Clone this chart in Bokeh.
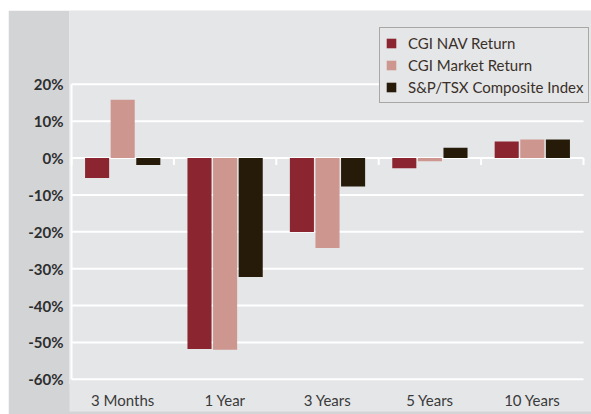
from bokeh.plotting import figure
from bokeh.models import FixedTicker, Legend, LegendItem, ColumnDataSource, Range1d
from bokeh.embed import file_html
from bokeh.resources import INLINE

categories = ["3 Months", "1 Year", "3 Years", "5 Years", "10 Years"]
series = ["CGI NAV Return", "CGI Market Return", "S&P/TSX Composite Index"]
nav = [-5.4, -51.8, -20.1, -2.8, 4.5]
market = [15.8, -52.0, -24.4, -0.9, 5.0]
sptsx = [-1.9, -32.3, -7.7, 2.8, 5.0]
y_ticks = [20, 10, 0, -10, -20, -30, -40, -50, -60]
colors = ["#8B2530", "#CD968F", "#261A08"]

n = len(categories)
W, H = 583, 404
left_border, bottom_border = 61, 30
px_per_unit = 102.4
frame_w = W - left_border
x_start = -2 / px_per_unit
x_end = x_start + frame_w / px_per_unit
px_per_pct = 3.6875
y_end = 40.0
y_start = y_end - (H - bottom_border) / px_per_pct

p = figure(width=W, height=H, output_backend="svg", toolbar_location=None,
           x_range=Range1d(x_start, x_end), y_range=Range1d(y_start, y_end),
           min_border_left=left_border, min_border_right=0, min_border_top=0,
           min_border_bottom=bottom_border)
p.margin = (10, 0, 0, 8)
p.border_fill_color = "#D3D4D6"
p.background_fill_color = "#E5E6E8"
p.outline_line_color = None
p.xgrid.visible = False
p.ygrid.visible = False

# grid lines and axis line
p.segment(x0=[0] * len(y_ticks), x1=[n] * len(y_ticks), y0=y_ticks, y1=y_ticks,
          line_color="white", line_width=2)
p.segment(x0=[0], x1=[0], y0=[min(y_ticks)], y1=[max(y_ticks)], line_color="white", line_width=2)
p.segment(x0=list(range(n + 1)), x1=list(range(n + 1)), y0=[0] * (n + 1), y1=[-1.9] * (n + 1),
          line_color="white", line_width=2)

renderers = []
for j, (name, vals) in enumerate(zip(series, [nav, market, sptsx])):
    xs = [i + 0.5 + (j - 1) * 0.25 for i in range(n)]
    src = ColumnDataSource(dict(x=xs, top=vals))
    r = p.vbar(x="x", top="top", bottom=0, width=0.235, source=src,
               fill_color=colors[j], line_color=None)
    renderers.append(r)

legend = Legend(items=[LegendItem(label=s, renderers=[r]) for s, r in zip(series, renderers)],
                location=(310, 281))
legend.border_line_color = "#6E665E"
legend.border_line_width = 1
legend.background_fill_color = "#E5E6E8"
legend.background_fill_alpha = 1
legend.padding = 5
legend.spacing = 2
legend.margin = 0
legend.glyph_width = 12
legend.glyph_height = 12
legend.label_height = 20
legend.label_standoff = 11
legend.label_text_font = "Lato"
legend.label_text_font_size = "15px"
legend.label_text_color = "#3A3028"
p.add_layout(legend, "center")

# x axis
p.xaxis.ticker = FixedTicker(ticks=[i + 0.5 for i in range(n)])
p.xaxis.major_label_overrides = {i + 0.5: c for i, c in enumerate(categories)}
p.xaxis.axis_line_color = None
p.xaxis.major_tick_line_color = None
p.xaxis.major_tick_out = 0
p.xaxis.minor_tick_line_color = None
p.xaxis.major_label_standoff = 6
p.xaxis.major_label_text_font = "Lato"
p.xaxis.major_label_text_font_size = "15px"
p.xaxis.major_label_text_color = "#3A3A3A"
p.xaxis.background_fill_color = "#E5E6E8"

# y axis
p.yaxis.ticker = FixedTicker(ticks=y_ticks)
p.yaxis.major_label_overrides = {t: f"{t}%" for t in y_ticks}
p.yaxis.axis_line_color = None
p.yaxis.major_tick_line_color = None
p.yaxis.major_tick_out = 0
p.yaxis.major_tick_in = 0
p.yaxis.minor_tick_line_color = None
p.yaxis.major_label_standoff = 6
p.yaxis.major_label_text_font = "Lato"
p.yaxis.major_label_text_font_style = "bold"
p.yaxis.major_label_text_font_size = "15px"
p.yaxis.major_label_text_color = "#2E2E2E"

open("out.html", "w").write(file_html(p, INLINE))
